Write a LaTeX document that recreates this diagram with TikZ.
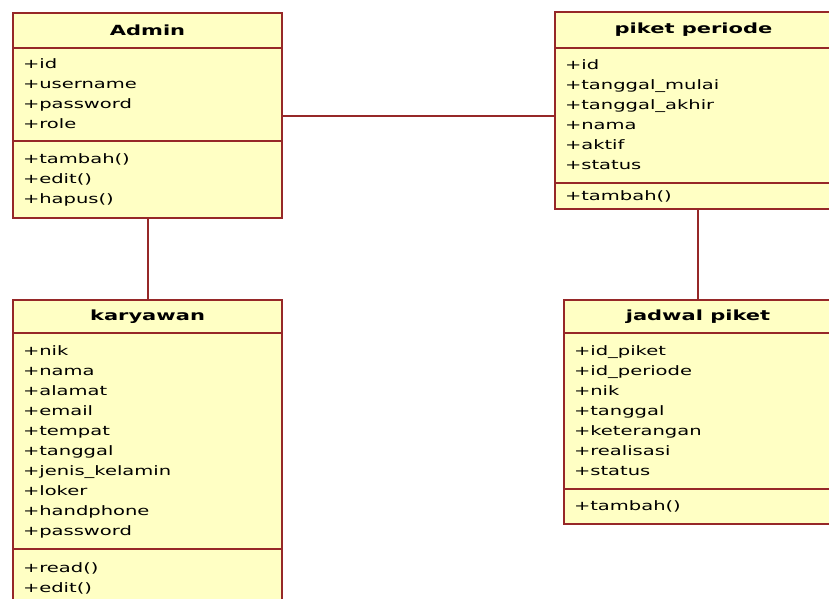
\documentclass[tikz,border=0pt]{standalone}
\usepackage{fontspec}
\setmainfont{DejaVu Sans}[FakeStretch=1.5]
\definecolor{umlborder}{RGB}{150,40,40}
\definecolor{umlfill}{RGB}{255,255,196}
\tikzset{%
	classname/.style	= {draw=umlborder, fill=umlfill, line width=2pt, anchor=north west, font=\fontsize{14}{16}\selectfont\bfseries}, % Class name
	members/.style		= {draw=umlborder, fill=umlfill, line width=2pt, anchor=north west, align=left, inner xsep=10pt, inner ysep=2pt, font=\fontsize{13}{20}\selectfont}, % Attributes and operations
	assoc/.style		= {draw=umlborder, line width=2pt} % Association
}

\begin{document}
\begin{tikzpicture}[x=1pt, y=-1pt]
	\clip (0,0) rectangle (829,598);
	\useasboundingbox (0,0) rectangle (829,598);
	\draw % Drawing the classes
	node at (12, 12) [classname, minimum width=269pt, minimum height=35pt] (admin) {Admin}
	node at (12, 47) [members, text width=249pt, minimum height=93pt] (admin-attr) {\strut+id\\+username\\+password\\+role\strut}
	node at (12, 140) [members, text width=249pt, minimum height=77pt] (admin-ops) {\strut+tambah()\\+edit()\\+hapus()\strut}
	node at (554, 11) [classname, minimum width=277pt, minimum height=36pt] (piket) {piket periode}
	node at (554, 47) [members, text width=257pt, minimum height=135pt] (piket-attr) {\strut+id\\+tanggal\_mulai\\+tanggal\_akhir\\+nama\\+aktif\\+status\strut}
	node at (554, 182) [members, text width=257pt, minimum height=26pt] (piket-ops) {\strut+tambah()\strut}
	node at (12, 299) [classname, minimum width=269pt, minimum height=33pt] (karyawan) {karyawan}
	node at (12, 332) [members, text width=249pt, minimum height=216pt] (karyawan-attr) {\strut+nik\\+nama\\+alamat\\+email\\+tempat\\+tanggal\\+jenis\_kelamin\\+loker\\+handphone\\+password\strut}
	node at (12, 548) [members, text width=249pt, minimum height=58pt] (karyawan-ops) {\strut+read()\\+edit()\strut}
	node at (563, 299) [classname, minimum width=268pt, minimum height=33pt] (jadwal) {jadwal piket}
	node at (563, 332) [members, text width=248pt, minimum height=156pt] (jadwal-attr) {\strut+id\_piket\\+id\_periode\\+nik\\+tanggal\\+keterangan\\+realisasi\\+status\strut}
	node at (563, 488) [members, text width=248pt, minimum height=35pt] (jadwal-ops) {\strut+tambah()\strut}
	;

	% Drawing the associations
	\draw[assoc] ([yshift=-21.5pt]admin-attr.east) -- ([yshift=-21.5pt]admin-attr.east -| piket-attr.west);
	\draw[assoc] (admin-ops.south) -- (karyawan.north);
	\draw[assoc] (jadwal.north |- piket-ops.south) -- (jadwal.north);
\end{tikzpicture}
\end{document}
